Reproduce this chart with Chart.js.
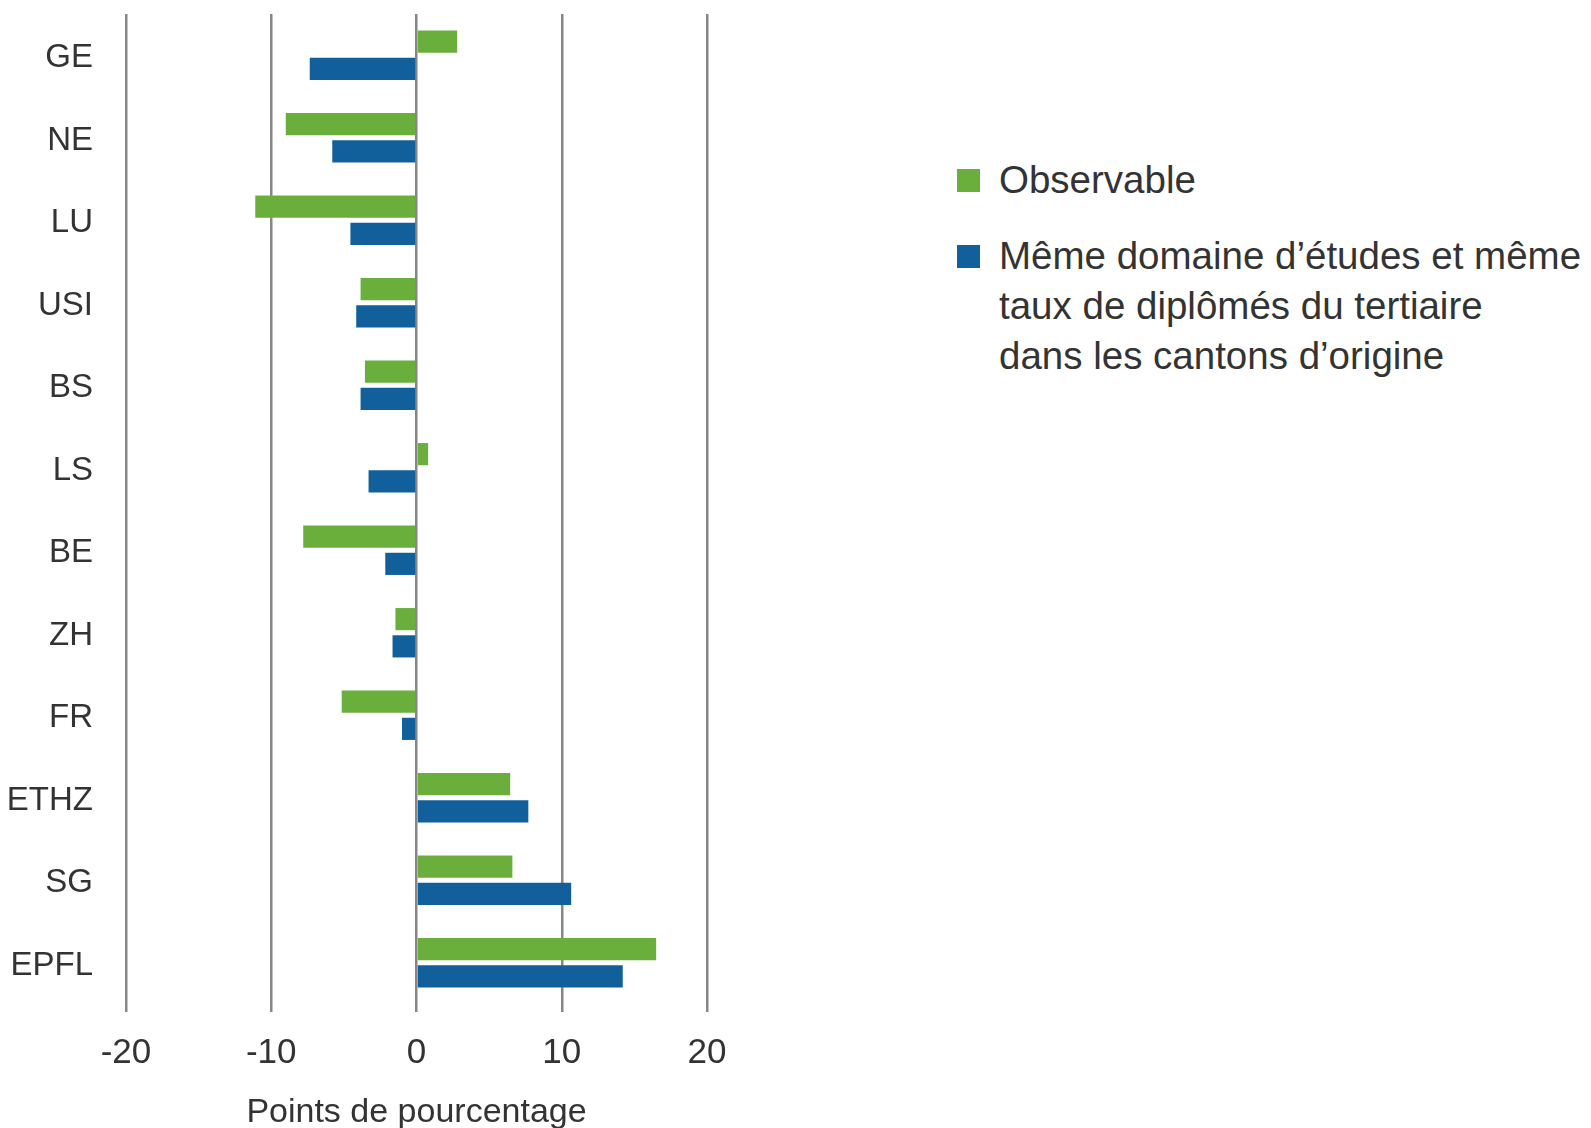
<!DOCTYPE html>
<html>
  <head>
    <meta charset="utf-8" />
    <title>Écart par haute école</title>
    <script src="https://cdn.jsdelivr.net/npm/chart.js"></script>
    <style>
      body {
        margin: 0;
        background: #fff;
        font-family: "Liberation Sans", Arial, sans-serif;
      }
      .page {
        position: relative;
        width: 1591px;
        height: 1128px;
        overflow: hidden;
      }
      .chart-box {
        position: absolute;
        left: 0;
        top: 0;
        width: 760px;
        height: 1128px;
      }
      .legend {
        position: absolute;
        left: 957px;
        top: 155px;
        color: #333;
        font-size: 38.5px;
        line-height: 50px;
        white-space: nowrap;
      }
      .legend .item {
        position: relative;
        padding-left: 42px;
        margin-bottom: 26px;
      }
      .legend .swatch {
        position: absolute;
        left: 0;
        top: 14px;
        width: 23px;
        height: 23px;
      }
    </style>
  </head>
  <body>
    <div class="page">
      <div class="chart-box">
        <canvas id="chart1" width="760" height="1128"></canvas>
      </div>
      <div class="legend" id="legend"></div>
    </div>

    <script>
      // données (points de pourcentage)
      const categories = ["GE", "NE", "LU", "USI", "BS", "LS", "BE", "ZH", "FR", "ETHZ", "SG", "EPFL"];
      const observable = [2.8, -9.0, -11.1, -3.85, -3.55, 0.8, -7.8, -1.45, -5.15, 6.45, 6.6, 16.5];
      const memeDomaine = [-7.35, -5.8, -4.55, -4.15, -3.85, -3.3, -2.15, -1.65, -1.0, 7.7, 10.65, 14.2];
      const xTicks = [-20, -10, 0, 10, 20];

      const seriesNames = [
        "Observable",
        "Même domaine d’études et même<br>taux de diplômés du tertiaire<br>dans les cantons d’origine",
      ];
      const colors = ["#6aaf3c", "#11609b"];

      const textColor = "#333";
      const gridColor = "#868686";

      // légende à droite
      const legendDiv = document.getElementById("legend");
      legendDiv.innerHTML = seriesNames
        .map(
          (name, i) =>
            `<div class="item"><span class="swatch" style="background:${colors[i]}"></span>${name}</div>`
        )
        .join("");

      const ctx = document.getElementById("chart1").getContext("2d");
      new Chart(ctx, {
        type: "bar",
        data: {
          labels: categories,
          datasets: [
            {
              label: "Observable",
              data: observable,
              backgroundColor: colors[0],
            },
            {
              label: "Même domaine d’études et même taux de diplômés du tertiaire dans les cantons d’origine",
              data: memeDomaine,
              backgroundColor: colors[1],
            },
          ],
        },
        options: {
          indexAxis: "y",
          responsive: false,
          animation: false,
          categoryPercentage: 0.66,
          barPercentage: 0.815,
          layout: {
            padding: { top: 14, right: 53, bottom: 0, left: 0 },
          },
          plugins: {
            legend: { display: false },
            tooltip: { enabled: false },
          },
          scales: {
            x: {
              min: -20,
              max: 20,
              afterBuildTicks: (scale) => {
                scale.ticks = xTicks.map((v) => ({ value: v }));
              },
              afterFit: (scale) => {
                scale.height = 124;
              },
              grid: {
                color: gridColor,
                lineWidth: 2.5,
                drawTicks: true,
                tickLength: 8,
                tickColor: gridColor,
              },
              border: { display: false },
              ticks: {
                color: textColor,
                font: { family: "Liberation Sans", size: 35 },
                padding: 20,
              },
              title: {
                display: true,
                text: "Points de pourcentage",
                color: textColor,
                font: { family: "Liberation Sans", size: 34 },
                padding: { top: 19, bottom: -5 },
              },
            },
            y: {
              grid: { display: false },
              border: { display: false },
              ticks: {
                color: textColor,
                font: { family: "Liberation Sans", size: 33 },
                padding: 25,
                labelOffset: 3,
              },
              afterFit: (scale) => {
                scale.width = 126;
                scale.paddingTop = 0;
                scale.paddingBottom = 0;
              },
            },
          },
        },
      });
    </script>
  </body>
</html>
